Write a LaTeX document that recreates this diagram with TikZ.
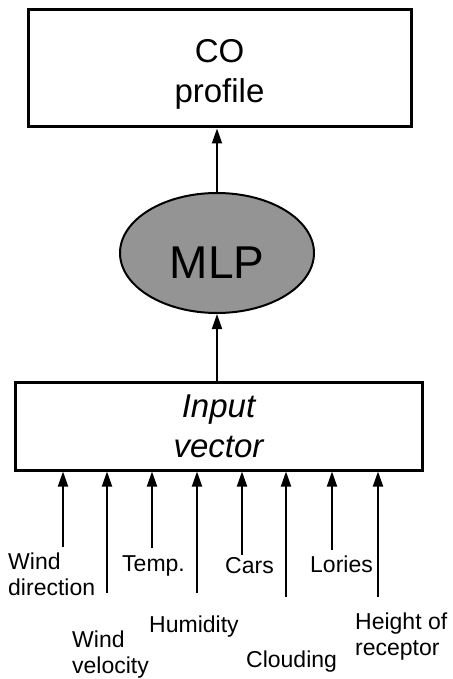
\documentclass[tikz,border=0pt]{standalone}
\usepackage{fontspec}
\setmainfont{Liberation Sans}
\usetikzlibrary{arrows.meta,shapes.geometric}
\begin{document}
\begin{tikzpicture}[x=1pt,y=-1pt,
  box/.style={draw,line width=3pt,inner sep=0pt,align=center,
    font=\fontsize{33}{40}\selectfont},
  arr/.style={-{Triangle[length=15pt,width=10pt]},line width=1.8pt},
  lbl/.style={inner sep=0pt,align=left,font=\fontsize{23}{26}\selectfont}]
\useasboundingbox (0,0) rectangle (452,679);
\node[box,minimum width=383pt,minimum height=117pt] (out) at (219.5,68.5) {\rule{0pt}{34pt}CO\\profile};
\node[ellipse,draw,line width=2pt,fill=black!42,minimum width=194pt,minimum height=120pt,
  inner sep=0pt,text height=50pt,text depth=0pt,font=\fontsize{46}{50}\selectfont] (mlp) at (217,253) {MLP};
\node[box,minimum width=407pt,minimum height=88pt,font=\fontsize{33}{40}\selectfont\itshape] (in) at (218.5,426) {Input\\vector};
\draw[arr] (mlp.north -| 217,0) -- (out.south -| 217,0);
\draw[arr] (in.north -| 217,0) -- (mlp.south -| 217,0);
% inputs
\foreach \x/\yb/\n in {63/547/wd,107/593/wv,152/548/tp,197/593/hu,
    242/555/cr,286/597/cl,332/550/lo,378/597/hr} {
  \coordinate (\n) at (\x,\yb);
  \draw[arr] (\n) -- (\n |- in.south);
}
\node[lbl,anchor=base west] (lwd) at (8,595) {Wind\\direction};
\node[lbl,anchor=base west] (lwv) at (72,673) {Wind\\velocity};
\node[lbl,anchor=base west] (ltp) at (122,571) {Temp.};
\node[lbl,anchor=base west] (lhu) at (149,632) {Humidity};
\node[lbl,anchor=base west] (lcr) at (225,573) {Cars};
\node[lbl,anchor=base west] (lcl) at (246,667) {Clouding};
\node[lbl,anchor=base west] (llo) at (310,572) {Lories};
\node[lbl,anchor=base west] (lhr) at (355,655) {Height of\\receptor};
\end{tikzpicture}
\end{document}
